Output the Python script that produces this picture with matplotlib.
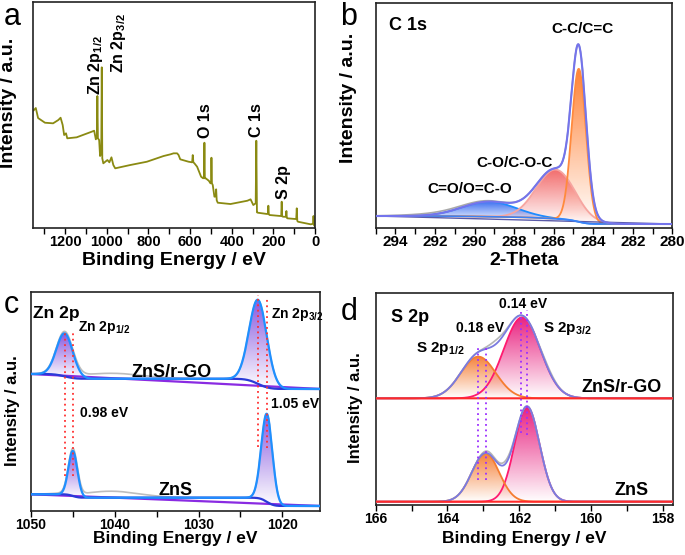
import numpy as np
import matplotlib
matplotlib.use('Agg')
import matplotlib.pyplot as plt
import matplotlib.colors as mcolors
from matplotlib.path import Path
from matplotlib.patches import PathPatch
from matplotlib.ticker import MultipleLocator

plt.rcParams['font.family'] = ['Liberation Sans', 'DejaVu Sans']
plt.rcParams['font.weight'] = 'bold'
plt.rcParams['axes.labelweight'] = 'bold'
plt.rcParams['mathtext.fontset'] = 'custom'
plt.rcParams['mathtext.rm'] = 'Liberation Sans:bold'
plt.rcParams['mathtext.it'] = 'Liberation Sans:bold'
plt.rcParams['mathtext.bf'] = 'Liberation Sans:bold'
plt.rcParams['mathtext.default'] = 'bf'

# ---- a: survey spectrum (binding energy eV, intensity a.u.)
survey_ev = [1350, 1340, 1329, 1296, 1257, 1232, 1221, 1211, 1204, 1195, 1189, 1144,
             1072, 1060, 1052, 1047, 1044.6, 1042, 1036, 1031.6, 1026, 1023.5, 1021,
             1016, 996.5, 987, 977, 968, 959, 887, 807, 727, 694, 679, 662, 655, 647,
             607, 590, 587, 584, 579, 566, 547, 537, 533, 531, 529, 524.7, 510, 502,
             499, 497.3, 495, 491, 483, 477, 474.7, 472, 467, 406, 325, 309.5, 296.5,
             285, 282, 279, 274.4, 229, 226, 224.3, 222, 218, 165, 162.5, 160.3, 158,
             154, 140, 137.7, 135.5, 133, 93, 90.5, 88, 85.5, 82, 21, 10, 7.7, 5, 1.4]
survey_int = [118, 120.3, 110.3, 105.6, 105, 108.3, 110.6, 103.3, 93.3, 95, 90, 91,
              96.6, 97.6, 89, 92, 132.3, 90, 88.3, 72.3, 75, 161, 70,
              65, 68.3, 66, 71, 63.3, 60, 63.3, 66.6, 72.3, 74, 75, 75, 73.3, 69,
              66.6, 66, 73.3, 66, 65, 61.6, 51.6, 50, 52, 85.6, 50, 50, 47.6, 45,
              47, 70.6, 45, 43.3, 31.6, 32, 39, 28, 25.6, 24.3, 27.6, 29, 23.3,
              25, 87.6, 16, 15.6, 14.3, 15, 22.6, 14, 13.3, 12.3, 13, 26.6, 12,
              11.6, 11.5, 17.3, 10.5, 10, 9.3, 9.5, 20, 7.5, 6.6, 4, 4.5, 12.3, 3, 2.3]
survey_labels = ['Zn 2p$_{1/2}$', 'Zn 2p$_{3/2}$', 'O 1s', 'C 1s', 'S 2p']
survey_label_ev = [1054, 942, 526, 280, 153]
survey_label_y = [133, 155, 90, 91, 29]
survey_ticks = [1200, 1000, 800, 600, 400, 200, 0]

# ---- b: C 1s fit
c1s_names = ['C-C/C=C', 'C-O/C-O-C', 'C=O/O=C-O']
c1s_center = [284.73, 285.9, 289.25]
c1s_height = [153, 49.3, 15]
c1s_fwhm = [0.85, 2.3, 3.2]
c1s_bg_low, c1s_bg_high = 4.3, 12.3
c1s_extra = [291.5, 2.0, 4.0]       # shake-up seen only in raw data
c1s_label_x = [284.56, 287.96, 290.23]
c1s_label_y = [195, 61, 35]
c1s_ticks = [294, 292, 290, 288, 286, 284, 282, 280]

# ---- c: Zn 2p, two samples
zn_samples = ['ZnS/r-GO', 'ZnS']
zn_center = [[1045.98, 1022.9], [1045.0, 1021.85]]
zn_height = [[43, 84], [45, 88]]
zn_fwhm = [[2.3, 2.5], [1.25, 1.55]]
zn_bg_high = [137, 16.7]
zn_bg_low = [122, 5]
zn_loss = [[1040.5, 5.5, 9.0], [1040.5, 6.5, 8.0]]
zn_label_x = [1033.2, 1032.7]
zn_label_y = [134, 16]
zn_vline_ev = [1045.98, 1045.0, 1022.9, 1021.85]
zn_vline_top = [181, 179, 216, 214]
zn_vline_bot = [35, 35, 64, 63]
zn_ticks = [1050, 1040, 1030, 1020]

# ---- d: S 2p, two samples
s_samples = ['ZnS/r-GO', 'ZnS']
s_center = [[163.14, 161.92], [162.94, 161.78]]
s_height = [[41.7, 81], [48.4, 95]]
s_fwhm = [[1.15, 1.2], [0.9, 0.82]]
s_base = [106.7, 3.3]
s_extra = [[[162.65, 4.0, 0.5], [161.2, 2.0, 0.5]], [[162.85, 2.0, 0.4], [162.35, 3.0, 0.4]]]
s_label_x = [158.02, 158.4]
s_label_y = [113, 10]
s_vline_ev = [163.14, 162.94, 161.95, 161.78]
s_vline_top = [157, 158, 195, 195]
s_vline_bot = [25, 25, 72, 70]
s_ticks = [166, 164, 162, 160, 158]


def gauss(x, c, h, w):
    return h * np.exp(-4 * np.log(2) * (x - c) ** 2 / w ** 2)


def shirley(peaks, lo, hi):
    cum = np.cumsum(peaks)
    return lo + (hi - lo) * cum / cum[-1]


def gradient_fill(ax, x, base, comp, color, amax=0.95, z=2):
    m = comp > 0.003 * comp.max()
    x, b, t = x[m], base[m], base[m] + comp[m]
    verts = np.column_stack([np.r_[x, x[::-1]], np.r_[t, b[::-1]]])
    patch = PathPatch(Path(verts), facecolor='none', edgecolor='none')
    ax.add_patch(patch)
    img = np.ones((256, 1, 4))
    img[..., :3] = mcolors.to_rgb(color)
    img[:, 0, 3] = np.linspace(0, amax, 256)
    im = ax.imshow(img, extent=[x.min(), x.max(), b.min(), t.max()], origin='lower',
                   aspect='auto', zorder=z, interpolation='bilinear')
    im.set_clip_path(patch)


def style(ax, xlim, ylim, ticks, minor, tsize, xlab, xsize, xlab_y):
    ax.set_xticks(ticks)
    ax.xaxis.set_minor_locator(MultipleLocator(minor))
    ax.set_xlim(*xlim)
    ax.set_ylim(*ylim)
    ax.tick_params(axis='x', which='both', direction='out', length=4, width=1,
                   top=False, labelbottom=False)
    ax.tick_params(axis='y', which='both', left=False, labelleft=False)
    # tick labels written as bold texts under each major tick
    for t in ticks:
        ax.annotate(str(t), xy=(t, 0), xycoords=('data', 'axes fraction'),
                    xytext=(0, -4.9), textcoords='offset points', ha='center', va='top',
                    fontsize=tsize, fontweight='bold', annotation_clip=False)
    ax.set_xlabel(xlab, fontsize=xsize, fontweight='bold')
    ax.xaxis.set_label_coords(0.5, xlab_y)
    for s in ax.spines.values():
        s.set_linewidth(1.2)
        s.set_color('#222222')


fig = plt.figure(figsize=(6.85, 5.55), dpi=100)
ax_a = fig.add_axes([0.0486, 0.5886, 0.4114, 0.4083])
ax_b = fig.add_axes([0.5485, 0.5886, 0.4330, 0.4065])
ax_c = fig.add_axes([0.0453, 0.0793, 0.4219, 0.3946])
ax_d = fig.add_axes([0.5485, 0.0901, 0.4347, 0.3814])

# ---------------- a
ax_a.plot(survey_ev, survey_int, color='#8a8a12', lw=1.3)
for t, xv, yv in zip(survey_labels, survey_label_ev, survey_label_y):
    ax_a.text(xv, yv, t, rotation=90, ha='center', va='bottom', fontsize=11.5)
style(ax_a, (1352, 0), (0, 226.6), survey_ticks, 100, 10.5, 'Binding Energy / eV', 14, -0.105)
ax_a.set_ylabel('Intensity / a.u.', fontsize=14)
ax_a.yaxis.set_label_coords(-0.058, 0.555)

# ---------------- b
xb = np.linspace(280, 295, 1500)
comps = [gauss(xb, c, h, w) for c, h, w in zip(c1s_center, c1s_height, c1s_fwhm)]
total = sum(comps)
bg = shirley(total, c1s_bg_low, c1s_bg_high)
lin = c1s_bg_low + (c1s_bg_high - c1s_bg_low) * (xb - 280) / 15
raw = bg + total + gauss(xb, *c1s_extra)
b_line = ['#ff8a3d', '#f6a5a0', '#1e8cff']
b_fill = ['#ff7a2a', '#f26464', '#2f66f0']
for comp, lc, fc in zip(comps, b_line, b_fill):
    gradient_fill(ax_b, xb, bg, comp, fc, 0.95, 2)
for comp, lc in zip(comps[::-1], b_line[::-1]):
    ax_b.plot(xb, bg + comp, color=lc, lw=1.3, zorder=3)
ax_b.plot(xb, lin, color='#5a5aa8', lw=1.0, zorder=3)
ax_b.plot(xb, bg, color='#3b82f6', lw=1.2, zorder=3)
ax_b.plot(xb, raw, color='#a9a9a9', lw=1.2, zorder=3)
ax_b.plot(xb, bg + total, color='#7474ec', lw=1.5, zorder=4)
ax_b.text(294.34, 198, 'C 1s', fontsize=13, ha='left', va='baseline')
for t, xv, yv in zip(c1s_names, c1s_label_x, c1s_label_y):
    ax_b.text(xv, yv, t, fontsize=11, ha='center', va='baseline')
style(ax_b, (295, 280), (0, 225.6), c1s_ticks, 1, 11, '2-Theta', 14, -0.105)
ax_b.set_ylabel('Intensity / a.u.', fontsize=14)
ax_b.yaxis.set_label_coords(-0.064, 0.578)

# ---------------- c
xc = np.linspace(1015.5, 1050, 2000)
for i in range(2):
    pk = [gauss(xc, c, h, w) for c, h, w in zip(zn_center[i], zn_height[i], zn_fwhm[i])]
    tot = sum(pk)
    sh = shirley(tot, zn_bg_low[i], zn_bg_high[i])
    straight = zn_bg_low[i] + (zn_bg_high[i] - zn_bg_low[i]) * (xc - 1015.5) / 34.5
    raw = sh + tot + gauss(xc, *zn_loss[i])
    for p in pk:
        gradient_fill(ax_c, xc, sh, p, '#7a45dc', 0.9, 2)
    ax_c.plot(xc, raw, color='#bdbdbd', lw=1.2, zorder=3)
    ax_c.plot(xc, straight, color='#8a2be2', lw=1.6, zorder=3)
    ax_c.plot(xc, sh, color='#2a3ad8', lw=1.6, zorder=3)
    ax_c.plot(xc, sh + tot, color='#1f8fff', lw=1.6, zorder=4)
    ax_c.text(zn_label_x[i], zn_label_y[i], zn_samples[i], fontsize=13, ha='center', va='baseline')
ax_c.vlines(zn_vline_ev, zn_vline_bot, zn_vline_top, colors='#ff3030', linestyles=(0, (1, 2)), lw=1.3, zorder=5)
ax_c.text(1049.76, 193, 'Zn 2p', fontsize=12.5, ha='left', va='baseline')
ax_c.text(1044.4, 180, 'Zn 2p$_{1/2}$', fontsize=10, ha='left', va='baseline')
ax_c.text(1021.3, 193, 'Zn 2p$_{3/2}$', fontsize=10, ha='left', va='baseline')
ax_c.text(1044.1, 94, '0.98 eV', fontsize=10, ha='left', va='baseline')
ax_c.text(1021.3, 103, '1.05 eV', fontsize=10, ha='left', va='baseline')
style(ax_c, (1050, 1015.5), (0, 219), zn_ticks, 5, 10, 'Binding Energy / eV', 12.5, -0.091)
ax_c.set_ylabel('Intensity / a.u.', fontsize=12)
ax_c.yaxis.set_label_coords(-0.038, 0.46)

# ---------------- d
xd = np.linspace(157.7, 166, 1500)
for i in range(2):
    pk = [gauss(xd, c, h, w) for c, h, w in zip(s_center[i], s_height[i], s_fwhm[i])]
    tot = sum(pk)
    base = np.full_like(xd, s_base[i])
    raw = base + tot + sum(gauss(xd, *e) for e in s_extra[i])
    gradient_fill(ax_d, xd, base, pk[1], '#e8177a', 0.95, 2)
    gradient_fill(ax_d, xd, base, pk[0], '#f57a2e', 0.95, 2.1)
    ax_d.plot(xd, base + pk[1], color='#ff1a70', lw=1.3, zorder=3)
    ax_d.plot(xd, base + pk[0], color='#f57c30', lw=1.3, zorder=3)
    ax_d.plot(xd, raw, color='#b5b5b5', lw=1.2, zorder=3)
    ax_d.plot(xd, base + tot, color='#7a7ae0', lw=1.3, zorder=4)
    ax_d.plot(xd, base, color='#ff2a2a', lw=1.5, zorder=4)
    ax_d.text(s_label_x[i], s_label_y[i], s_samples[i], fontsize=13, ha='right', va='baseline')
ax_d.vlines(s_vline_ev, s_vline_bot, s_vline_top, colors='#9b30ff', linestyles=(0, (1, 2)), lw=1.3, zorder=5)
ax_d.text(165.57, 183, 'S 2p', fontsize=13, ha='left', va='baseline')
ax_d.text(161.88, 197, '0.14 eV', fontsize=10, ha='center', va='baseline')
ax_d.text(163.1, 173, '0.18 eV', fontsize=10, ha='center', va='baseline')
ax_d.text(164.88, 153, 'S 2p$_{1/2}$', fontsize=11, ha='left', va='baseline')
ax_d.text(161.35, 173, 'S 2p$_{3/2}$', fontsize=11, ha='left', va='baseline')
style(ax_d, (166, 157.7), (0, 211.7), s_ticks, 1, 10, 'Binding Energy / eV', 12.5, -0.123)
ax_d.set_ylabel('Intensity / a.u.', fontsize=12)
ax_d.yaxis.set_label_coords(-0.043, 0.458)

for lab, xf, yf in [('a', 0.005, 0.955), ('b', 0.497, 0.955), ('c', 0.005, 0.436), ('d', 0.497, 0.424)]:
    fig.text(xf, yf, lab, fontsize=22, fontweight='normal', va='baseline')

fig.savefig('out.png', dpi=100)
